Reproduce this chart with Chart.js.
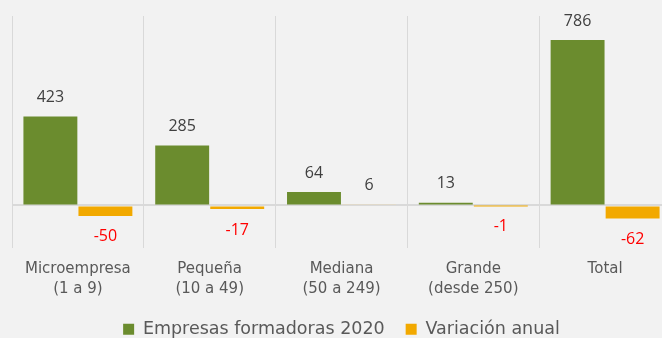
<!DOCTYPE html>
<html>
<head>
<meta charset="utf-8">
<script src="https://cdn.jsdelivr.net/npm/chart.js@4"></script>
<style>
  html, body { margin: 0; padding: 0; background: #f2f2f2; overflow: hidden; }
  #wrap { width: 672px; height: 348px; }
</style>
</head>
<body>
<div id="wrap"><canvas id="empresas"></canvas></div>
<script>
const categorias = [
  ['Microempresa', '(1 a 9)'],
  ['Pequeña', '(10 a 49)'],
  ['Mediana', '(50 a 249)'],
  ['Grande', '(desde 250)'],
  ['Total']
];
const formadoras2020 = [423, 285, 64, 13, 786];
const variacionAnual = [-50, -17, 6, -1, -62];

const VERDE = '#6b8c2e';
const NARANJA = '#f2a900';
const NARANJA_CLARO = '#f7dca0';

// etiquetas de valor encima / debajo de cada barra
const etiquetas = {
  id: 'etiquetas',
  afterDatasetsDraw(chart) {
    const ctx = chart.ctx;
    ctx.save();
    ctx.font = '16px "Open Sans"';
    ctx.textAlign = 'center';
    ctx.textBaseline = 'middle';
    chart.data.datasets.forEach((ds, i) => {
      chart.getDatasetMeta(i).data.forEach((bar, j) => {
        const v = ds.data[j];
        if (v >= 0) {
          ctx.fillStyle = '#404040';
          ctx.fillText(v, bar.x, bar.y - 19);
        } else {
          ctx.fillStyle = '#ff0000';
          ctx.fillText(v, bar.x, bar.y + 21);
        }
      });
    });
    ctx.restore();
  }
};

new Chart(document.getElementById('empresas').getContext('2d'), {
  type: 'bar',
  data: {
    labels: categorias,
    datasets: [{
      label: 'Empresas formadoras 2020',
      data: formadoras2020,
      backgroundColor: VERDE,
      categoryPercentage: 0.835,
      barPercentage: 0.98
    }, {
      label: 'Variación anual',
      data: variacionAnual,
      backgroundColor: variacionAnual.map(v => v >= 0 ? NARANJA_CLARO : NARANJA),
      categoryPercentage: 0.835,
      barPercentage: 0.98
    }]
  },
  options: {
    responsive: true,
    maintainAspectRatio: false,
    animation: false,
    layout: { padding: { top: 16, left: 12, right: 1, bottom: 0 } },
    plugins: {
      tooltip: { enabled: false },
      legend: {
        position: 'bottom',
        labels: {
          generateLabels(chart) {
            return chart.data.datasets.map((ds, i) => ({
              text: ds.label,
              fillStyle: i === 0 ? VERDE : NARANJA,
              strokeStyle: 'transparent',
              lineWidth: 0,
              fontColor: '#595959',
              datasetIndex: i
            }));
          },
          boxWidth: 11,
          boxHeight: 11,
          padding: 21,
          color: '#595959',
          font: { family: 'DejaVu Sans', size: 17.5 }
        }
      }
    },
    scales: {
      x: {
        grid: { offset: true, color: '#d9d9d9', drawTicks: false },
        border: { display: false },
        ticks: {
          color: '#595959',
          padding: 11,
          font: { family: 'DejaVu Sans', size: 15, lineHeight: 1.35 }
        },
        afterFit(scale) { scale.height = 52; }
      },
      y: {
        min: -200,
        max: 900,
        ticks: { display: false, stepSize: 100 },
        grid: {
          drawTicks: false,
          color: c => c.tick.value === 0 ? '#d9d9d9' : 'transparent',
          lineWidth: 2
        },
        border: { display: false }
      }
    }
  },
  plugins: [etiquetas]
});
</script>
</body>
</html>
